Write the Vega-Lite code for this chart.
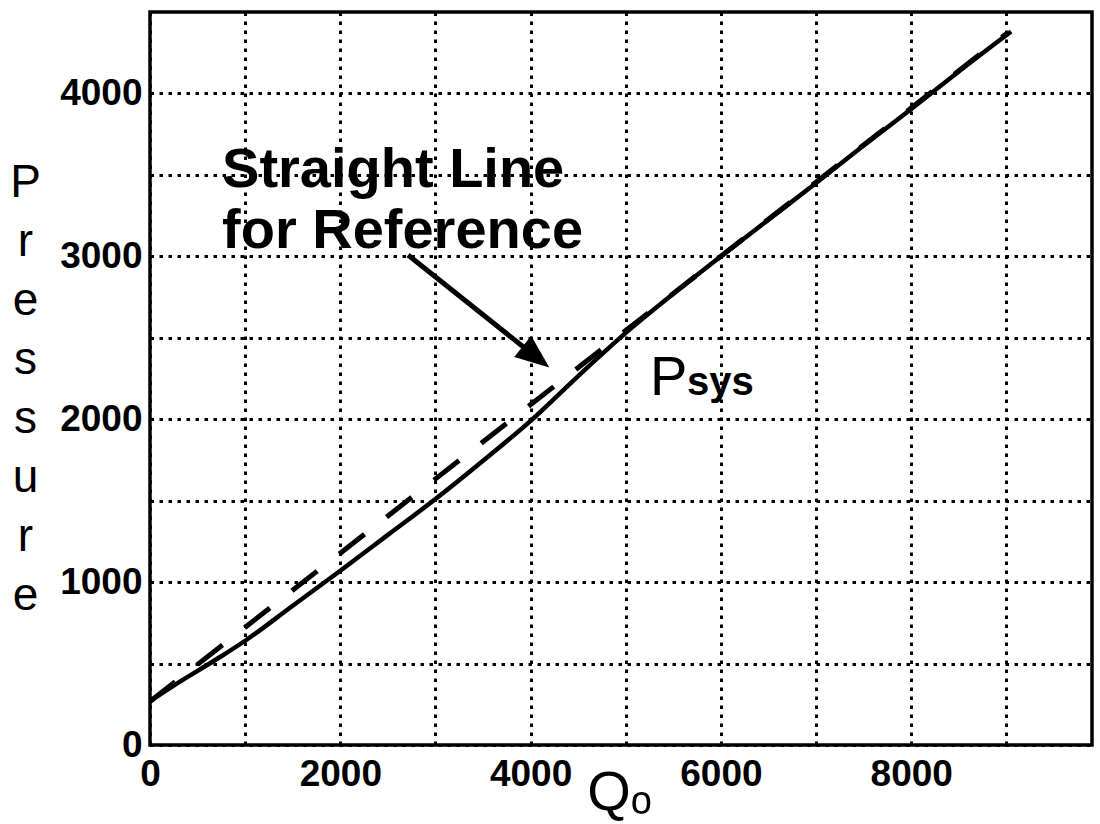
{
  "$schema": "https://vega.github.io/schema/vega-lite/v6.json",
  "width": 942,
  "height": 733,
  "autosize": {"type": "none"},
  "padding": {"left": 150, "top": 12, "right": 8, "bottom": 79},
  "background": "white",
  "config": {
    "view": {"stroke": "black", "strokeWidth": 3.5},
    "font": "Liberation Sans",
    "axis": {
      "domain": false,
      "ticks": false,
      "grid": true,
      "gridColor": "black",
      "gridOpacity": 1,
      "gridWidth": 3,
      "gridDash": [3.5, 5.5],
      "labelFont": "Liberation Sans",
      "labelFontSize": 37,
      "labelColor": "black",
      "labelFlush": false,
      "titleColor": "black",
      "titleFont": "Liberation Sans",
      "titleFontWeight": "normal"
    }
  },
  "datasets": {
    "curve": [
      {"q": 0, "p": 270},
      {"q": 250, "p": 365},
      {"q": 500, "p": 455},
      {"q": 750, "p": 545},
      {"q": 1000, "p": 640},
      {"q": 1500, "p": 855},
      {"q": 2000, "p": 1070},
      {"q": 2500, "p": 1290},
      {"q": 3000, "p": 1510},
      {"q": 3500, "p": 1745},
      {"q": 4000, "p": 1990},
      {"q": 4500, "p": 2265},
      {"q": 5000, "p": 2530},
      {"q": 5500, "p": 2770},
      {"q": 6000, "p": 3000},
      {"q": 6500, "p": 3225},
      {"q": 7000, "p": 3450},
      {"q": 7500, "p": 3680},
      {"q": 8000, "p": 3905},
      {"q": 8500, "p": 4135},
      {"q": 9050, "p": 4380}
    ],
    "ref": [
      {"q": 0, "p": 267},
      {"q": 9000, "p": 4367}
    ],
    "notesBig": [
      {"q": 757, "p": 3426, "text": "Straight Line"},
      {"q": 757, "p": 3051, "text": "for Reference"}
    ],
    "noteP": [
      {"q": 5255, "p": 2149, "text": "P"}
    ],
    "noteSys": [
      {"q": 5644, "p": 2149, "text": "sys"}
    ],
    "arrow": [
      {"q": 2712, "p": 3008, "q2": 4057, "p2": 2382}
    ]
  },
  "layer": [
    {
      "data": {"name": "curve"},
      "mark": {"type": "line", "color": "black", "strokeWidth": 4.5, "clip": true, "interpolate": "monotone"},
      "encoding": {
        "x": {
          "field": "q", "type": "quantitative",
          "scale": {"domain": [0, 9900], "nice": false, "zero": false},
          "axis": {
            "values": [0, 1000, 2000, 3000, 4000, 5000, 6000, 7000, 8000, 9000],
            "format": "d",
            "labelExpr": "datum.value % 2000 === 0 ? datum.label : ''",
            "labelPadding": 11,
            "labelFontWeight": "bold",
            "title": "Qₒ",
            "titleFontSize": 56,
            "titleBaseline": "alphabetic",
            "titleY": 64,
            "titleX": 469
          }
        },
        "y": {
          "field": "p", "type": "quantitative",
          "scale": {"domain": [0, 4500], "nice": false, "zero": false},
          "axis": {
            "values": [0, 500, 1000, 1500, 2000, 2500, 3000, 3500, 4000],
            "format": "d",
            "labelExpr": "datum.value % 1000 === 0 ? datum.label : ''",
            "labelPadding": 8,
            "labelFontWeight": "bold",
            "title": ["P", "r", "e", "s", "s", "u", "r", "e"],
            "titleAngle": 0,
            "titleFontSize": 46,
            "titleLineHeight": 59,
            "titleAlign": "center",
            "titleBaseline": "top",
            "titleX": -125,
            "titleY": 148
          }
        }
      }
    },
    {
      "data": {"name": "ref"},
      "mark": {"type": "line", "color": "black", "strokeWidth": 5, "strokeDash": [32, 28], "clip": true},
      "encoding": {
        "x": {"field": "q", "type": "quantitative"},
        "y": {"field": "p", "type": "quantitative"}
      }
    },
    {
      "data": {"name": "arrow"},
      "mark": {"type": "rule", "color": "black", "strokeWidth": 5},
      "encoding": {
        "x": {"field": "q", "type": "quantitative"},
        "y": {"field": "p", "type": "quantitative"},
        "x2": {"field": "q2"},
        "y2": {"field": "p2"}
      }
    },
    {
      "data": {"name": "arrow"},
      "mark": {"type": "point", "shape": "M1,0L-1,-0.8L-1,0.8Z", "filled": true, "color": "black", "opacity": 1, "size": 1156, "angle": 38.5},
      "encoding": {
        "x": {"field": "q2", "type": "quantitative"},
        "y": {"field": "p2", "type": "quantitative"}
      }
    },
    {
      "data": {"name": "notesBig"},
      "mark": {"type": "text", "align": "left", "baseline": "alphabetic", "color": "black", "font": "Liberation Sans", "fontSize": 56, "fontWeight": "bold"},
      "encoding": {
        "x": {"field": "q", "type": "quantitative"},
        "y": {"field": "p", "type": "quantitative"},
        "text": {"field": "text"}
      }
    },
    {
      "data": {"name": "noteP"},
      "mark": {"type": "text", "align": "left", "baseline": "alphabetic", "color": "black", "font": "Liberation Sans", "fontSize": 56, "fontWeight": "normal"},
      "encoding": {
        "x": {"field": "q", "type": "quantitative"},
        "y": {"field": "p", "type": "quantitative"},
        "text": {"field": "text"}
      }
    },
    {
      "data": {"name": "noteSys"},
      "mark": {"type": "text", "align": "left", "baseline": "alphabetic", "color": "black", "font": "Liberation Sans", "fontSize": 40, "fontWeight": "bold"},
      "encoding": {
        "x": {"field": "q", "type": "quantitative"},
        "y": {"field": "p", "type": "quantitative"},
        "text": {"field": "text"}
      }
    }
  ]
}
